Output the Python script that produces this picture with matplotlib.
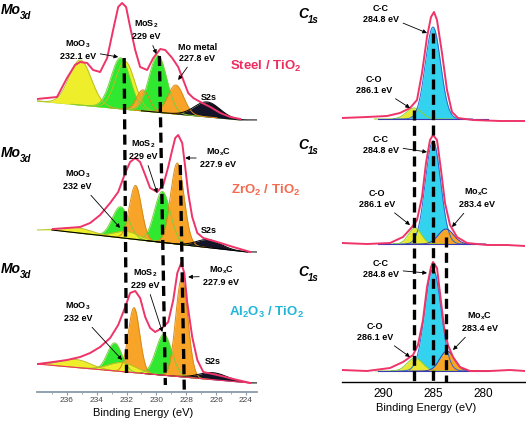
import numpy as np
import matplotlib.pyplot as plt

plt.rcParams['font.family'] = ['Liberation Sans', 'DejaVu Sans']
plt.rcParams['mathtext.fontset'] = 'custom'
plt.rcParams['mathtext.rm'] = 'Liberation Sans'
plt.rcParams['mathtext.bf'] = 'Liberation Sans:bold'

# ---------------- Mo 3d fitted components (energy eV, height a.u., FWHM eV) ----------------
steel_mo_kind = ['MoO3', 'MoO3', 'MoS2', 'Mo', 'MoS2', 'Mo', 'S2s']
steel_mo_center = [235.1, 232.1, 232.4, 230.9, 229.9, 228.7, 226.6]
steel_mo_height = [45, 48, 51, 21, 57, 29, 15]
steel_mo_fwhm = [1.75, 1.5, 1.5, 1.0, 1.4, 1.25, 2.0]
steel_mo_bg = [101, 120]          # background at 238.0 / 224.4 eV

zro_mo_kind = ['MoS2', 'MoS2', 'Mo', 'Mo', 'MoO3', 'MoO3', 'S2s']
zro_mo_center = [232.4, 229.6, 231.4, 228.6, 235.2, 232.0, 226.5]
zro_mo_height = [31, 51, 54, 81, 5, 7, 8]
zro_mo_fwhm = [1.3, 1.25, 0.95, 1.05, 2.2, 2.0, 1.9]
zro_mo_bg = [230, 252]            # background at 237.0 / 223.9 eV

al_mo_kind = ['MoS2', 'MoS2', 'Mo', 'Mo', 'MoO3', 'MoO3', 'S2s']
al_mo_center = [232.8, 229.5, 231.5, 228.3, 235.4, 232.3, 226.2]
al_mo_height = [28, 41, 65, 99, 8, 9, 7]
al_mo_fwhm = [1.15, 1.25, 0.9, 0.95, 2.3, 2.2, 2.2]
al_mo_bg = [364, 383]             # background at 238.0 / 223.7 eV

# measured Mo 3d envelopes
steel_env_e = [238.0, 236.66, 235.99, 235.45, 235.11, 234.64, 234.24, 233.77, 233.3, 232.9,
               232.56, 232.3, 232.03, 231.76, 231.42, 231.09, 230.62, 230.21, 229.74, 229.41,
               228.94, 228.54, 228.2, 227.87, 227.53, 227.06, 226.39, 225.72, 225.05, 224.38]
steel_env_y = [99, 97, 78, 65, 62, 63, 70, 72, 58, 30, 7, 3, 7, 27, 50, 67, 70, 58, 49, 50,
               58, 67, 80, 93, 98, 102, 107, 113, 117, 119]

zro_env_e = [236.93, 235.99, 235.11, 234.44, 233.77, 233.1, 232.56, 232.09, 231.76, 231.42,
             231.09, 230.75, 230.42, 229.95, 229.54, 229.21, 228.94, 228.74, 228.54, 228.27,
             228.07, 227.87, 227.6, 227.26, 226.86, 225.92, 224.85, 223.7]
zro_env_y = [229, 228, 227, 223, 215, 203, 192, 173, 162, 158, 162, 175, 188, 192, 185, 167,
             150, 138, 135, 143, 167, 193, 217, 233, 238, 242, 247, 252]

al_env_e = [237.93, 236.93, 235.99, 235.11, 234.44, 233.77, 233.1, 232.56, 232.09, 231.76,
            231.42, 231.09, 230.75, 230.42, 230.08, 229.61, 229.21, 228.87, 228.6, 228.34,
            228.13, 227.93, 227.6, 227.26, 226.86, 225.92, 224.85, 223.7]
al_env_y = [364, 362, 360, 357, 353, 347, 338, 325, 307, 293, 291, 298, 317, 328, 332, 328,
            322, 300, 273, 263, 273, 303, 337, 360, 372, 375, 379, 383]

# ---------------- C 1s fitted components ----------------
steel_c_kind = ['CO', 'CC']
steel_c_center = [286.9, 285.0]
steel_c_height = [11, 92]
steel_c_fwhm = [1.8, 1.8]
steel_c_bg = 119

zro_c_kind = ['CC', 'CO', 'MoC']
zro_c_center = [285.0, 286.8, 283.7]
zro_c_height = [103, 16, 15]
zro_c_fwhm = [1.8, 1.5, 1.8]
zro_c_bg = 244

al_c_kind = ['CC', 'CO', 'MoC']
al_c_center = [285.0, 286.8, 283.6]
al_c_height = [102, 13, 20]
al_c_fwhm = [1.9, 1.8, 1.7]
al_c_bg = 371

c_env_e = [294.1, 291.6, 289.6, 288.3, 287.3, 286.6, 286.1, 285.6, 285.2, 284.9, 284.6,
           284.1, 283.6, 283.1, 282.5, 281.0, 278.3, 276.8, 275.8]
steel_c_env_y = [118, 117, 116, 113, 108, 100, 73, 37, 17, 12, 20, 53, 90, 112, 118, 120,
                 121, 121, 121]
zro_c_env_e = [294.1, 291.6, 289.3, 288.0, 287.1, 286.6, 286.1, 285.7, 285.3, 285.0, 284.6,
               284.2, 283.8, 283.3, 282.6, 281.6, 279.6, 277.6, 275.8]
zro_c_env_y = [243, 244, 243, 237, 227, 220, 197, 163, 140, 135, 140, 170, 203, 225, 237,
               243, 245, 245, 246]
al_c_env_e = [294.1, 291.6, 289.3, 288.0, 287.0, 286.5, 286.0, 285.6, 285.2, 285.0, 284.6,
              284.3, 283.9, 283.5, 283.0, 282.3, 281.3, 279.3, 277.3, 275.8]
al_c_env_y = [370, 371, 368, 362, 355, 345, 320, 287, 267, 262, 268, 293, 327, 345, 357,
              367, 371, 371, 370, 371]

fill_col = {'MoO3': '#eeee2a', 'MoS2': '#30e830', 'Mo': '#f7a428', 'S2s': '#141428',
            'CC': '#33d3f0', 'CO': '#e8e832', 'MoC': '#f7a428'}
edge_col = {'MoO3': '#b8c020', 'MoS2': '#7ccf3a', 'Mo': '#d98a18', 'S2s': '#000000',
            'CC': '#2a6ad0', 'CO': '#8ccf2a', 'MoC': '#3a3ab0'}
ENV = '#ee3468'


def gauss(e, c, h, w):
    return h * np.exp(-4 * np.log(2) * (e - c) ** 2 / w ** 2)


def draw_parts(ax, kinds, centers, heights, fwhms, bg_e, bg_y):
    for k, c, h, w in zip(kinds, centers, heights, fwhms):
        e = np.linspace(c - 2.2 * w, c + 2.2 * w, 200)
        base = np.interp(e, bg_e[::-1], bg_y[::-1])
        top = base - gauss(e, c, h, w)
        ax.fill_between(e, base, top, color=fill_col[k], lw=0, zorder=2)
        ax.plot(e, top, color=edge_col[k], lw=0.7, zorder=2.5)


fig = plt.figure(figsize=(5.26, 4.22), dpi=100)
axL = fig.add_axes([37 / 526, 1 - 392 / 422, 220 / 526, 392 / 422])
axR = fig.add_axes([342 / 526, 1 - 382 / 422, 183 / 526, 382 / 422])

# ---- left column : Mo 3d ----
draw_parts(axL, steel_mo_kind, steel_mo_center, steel_mo_height, steel_mo_fwhm,
           [238.0, 224.4], steel_mo_bg)
draw_parts(axL, zro_mo_kind, zro_mo_center, zro_mo_height, zro_mo_fwhm,
           [237.0, 223.9], zro_mo_bg)
draw_parts(axL, al_mo_kind, al_mo_center, al_mo_height, al_mo_fwhm,
           [238.0, 223.7], al_mo_bg)
axL.plot([238.0, 224.4], steel_mo_bg, color='#8fd04a', lw=0.8, zorder=1.5)
axL.plot([237.0, 223.9], zro_mo_bg, color='k', lw=0.8, zorder=2.6)
axL.plot([238.0, 223.7], al_mo_bg, color=ENV, lw=0.8, zorder=2.6)
for e, y in [(steel_env_e, steel_env_y), (zro_env_e, zro_env_y), (al_env_e, al_env_y)]:
    axL.plot(e, y, color=ENV, lw=1.4, zorder=3)

# dashed guide lines
for x0, y0, x1, y1 in [(232.16, 58, 232.0, 373), (229.8, 56, 229.4, 385),
                       (228.4, 165, 228.13, 392)]:
    axL.plot([x0, x1], [y0, y1], color='k', lw=2.4, ls=(0, (3, 1.6)), zorder=4)

axL.set_xlim(238.0, 223.26)
axL.set_ylim(392, 0)

# ---- right column : C 1s ----
draw_parts(axR, steel_c_kind, steel_c_center, steel_c_height, steel_c_fwhm,
           [294.1, 275.8], [steel_c_bg] * 2)
draw_parts(axR, zro_c_kind, zro_c_center, zro_c_height, zro_c_fwhm,
           [294.1, 275.8], [zro_c_bg] * 2)
draw_parts(axR, al_c_kind, al_c_center, al_c_height, al_c_fwhm,
           [294.1, 275.8], [al_c_bg] * 2)
for bg in [steel_c_bg, zro_c_bg, al_c_bg]:
    axR.plot([290.5, 279.5], [bg, bg], color='#3a3ab0', lw=0.8, zorder=2.6)
axR.plot(c_env_e, steel_c_env_y, color=ENV, lw=1.4, zorder=3)
axR.plot(zro_c_env_e, zro_c_env_y, color=ENV, lw=1.4, zorder=3)
axR.plot(al_c_env_e, al_c_env_y, color=ENV, lw=1.4, zorder=3)

for x0, y0 in [(286.9, 110), (285.0, 33), (283.7, 237)]:
    axR.plot([x0, x0], [y0, 382], color='k', lw=2.4, ls=(0, (3, 1.6)), zorder=4)

axR.set_xlim(294.1, 275.8)
axR.set_ylim(382, 0)

# axes styling
for ax in (axL, axR):
    for s in ('left', 'right', 'top'):
        ax.spines[s].set_visible(False)
    ax.set_yticks([])
    ax.patch.set_alpha(0)
axL.spines['bottom'].set_color('#8a9aaa')
axL.spines['bottom'].set_linewidth(1.3)
axL.set_xticks([236, 234, 232, 230, 228, 226, 224])
axL.set_xticks(np.arange(224, 238, 1), minor=True)
axL.tick_params(axis='x', which='major', length=2.5, color='#8a9aaa', labelsize=6,
                labelcolor='#444444', pad=1)
axL.tick_params(axis='x', which='minor', length=1.5, color='#8a9aaa')
axR.spines['bottom'].set_linewidth(1.0)
axR.set_xticks([290, 285, 280])
axR.tick_params(axis='x', length=0, labelsize=8.5, pad=4)

fig.text(143 / 526, 1 - 413 / 422, 'Binding Energy (eV)', ha='center', va='center', fontsize=8)
fig.text(426 / 526, 1 - 408 / 422, 'Binding Energy (eV)', ha='center', va='center', fontsize=8)

# ---- annotations ----
arw = dict(arrowstyle='-|>', lw=0.6, color='k', mutation_scale=6, shrinkA=1, shrinkB=0)
lab = dict(ha='center', va='center', fontsize=6.5, fontweight='bold', linespacing=1.35, zorder=5)

for txt, te, ty, ae, ay in [
        ('MoO$_\\mathbf{3}$\n232.1 eV', 235.25, 50, 232.56, 57),
        ('MoS$_\\mathbf{2}$\n229 eV', 230.68, 30, 230.0, 54),
        ('Mo metal\n227.8 eV', 227.26, 53, 228.54, 80),
        ('MoS$_\\mathbf{2}$\n229 eV', 230.9, 150, 229.95, 193),
        ('Mo$_\\mathbf{x}$C\n227.9 eV', 225.85, 158, 228.07, 158),
        ('MoO$_\\mathbf{3}$\n232 eV', 235.3, 180, 232.43, 228),
        ('MoS$_\\mathbf{2}$\n229 eV', 230.75, 279, 229.6, 332),
        ('Mo$_\\mathbf{x}$C\n227.9 eV', 225.65, 276, 227.87, 277),
        ('MoO$_\\mathbf{3}$\n232 eV', 235.25, 312, 232.3, 360)]:
    axL.annotate(txt, xy=(ae, ay), xytext=(te, ty), arrowprops=arw, **lab)
for te, ty in [(226.5, 97), (226.46, 230), (226.2, 362)]:
    axL.text(te, ty, 'S2s', **lab)

for txt, te, ty, ae, ay in [
        ('C-C\n284.8 eV', 290.2, 14, 285.6, 33),
        ('C-O\n286.1 eV', 290.9, 85, 287.3, 108),
        ('C-C\n284.8 eV', 290.2, 145, 285.6, 152),
        ('C-O\n286.1 eV', 290.6, 199, 287.3, 225),
        ('Mo$_\\mathbf{x}$C\n283.4 eV', 280.6, 198, 283.1, 227),
        ('C-C\n284.8 eV', 290.2, 269, 285.6, 273),
        ('C-O\n286.1 eV', 290.8, 332, 287.3, 357),
        ('Mo$_\\mathbf{x}$C\n283.4 eV', 280.3, 322, 283.0, 350)]:
    axR.annotate(txt, xy=(ae, ay), xytext=(te, ty), arrowprops=arw, **lab)

# panel titles
for py in [3, 146, 262]:
    fig.text(1 / 526, 1 - py / 422, 'Mo', ha='left', va='top', fontsize=10,
             fontweight='bold', fontstyle='italic')
    fig.text(20 / 526, 1 - (py + 8) / 422, '3d', ha='left', va='top', fontsize=7,
             fontweight='bold', fontstyle='italic')
for py in [7, 138, 265]:
    fig.text(298 / 526, 1 - py / 422, 'C', ha='left', va='top', fontsize=10,
             fontweight='bold', fontstyle='italic')
    fig.text(308 / 526, 1 - (py + 8) / 422, '1s', ha='left', va='top', fontsize=7,
             fontweight='bold', fontstyle='italic')

for txt, py, col in [('Steel / TiO$_\\mathbf{2}$', 66, '#ee2c5e'),
                     ('ZrO$_\\mathbf{2}$ / TiO$_\\mathbf{2}$', 190, '#f36a4e'),
                     ('Al$_\\mathbf{2}$O$_\\mathbf{3}$ / TiO$_\\mathbf{2}$', 312, '#20b6d8')]:
    fig.text(266 / 526, 1 - py / 422, txt, ha='center', va='center', fontsize=9.5,
             fontweight='bold', color=col)

fig.savefig('out.png', dpi=100)
